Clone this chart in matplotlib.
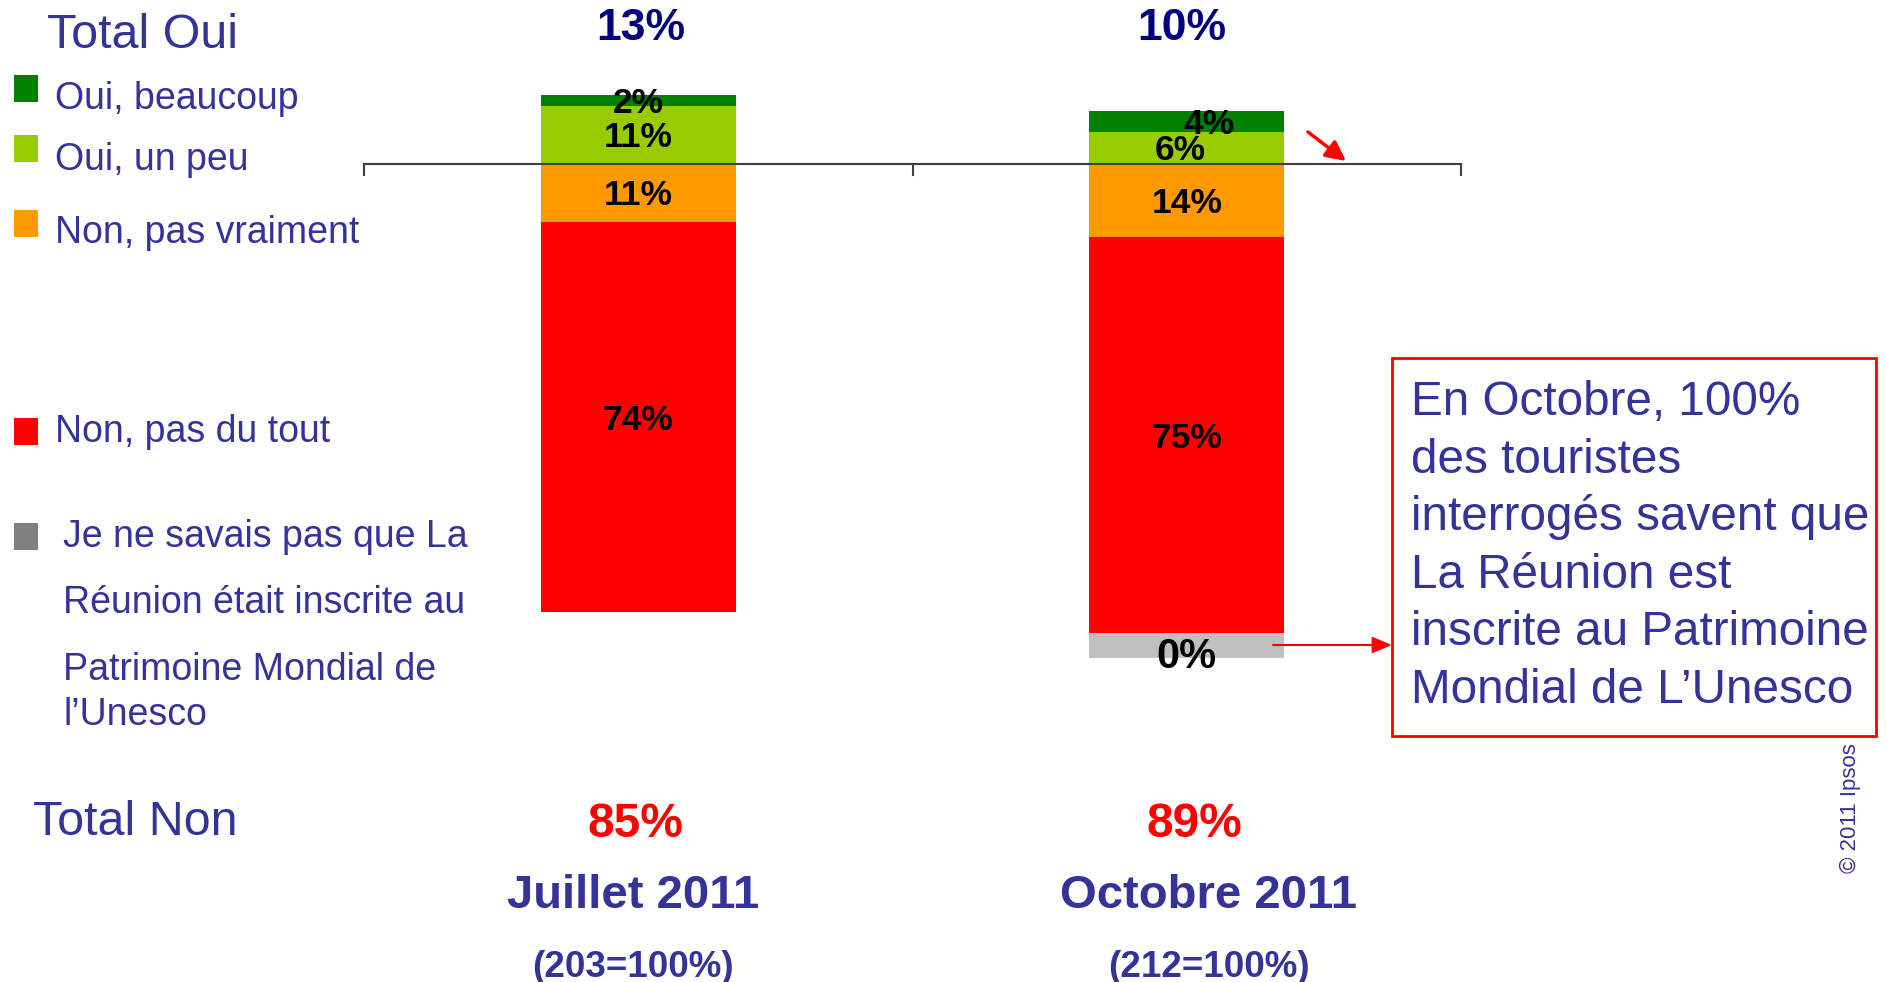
import numpy as np
import matplotlib.pyplot as plt
from matplotlib.patches import Rectangle
from matplotlib import transforms

plt.rcParams['font.family'] = ['Liberation Sans', 'DejaVu Sans']

# Données
mois = ["Juillet 2011", "Octobre 2011"]
bases = ["(203=100%)", "(212=100%)"]
oui_beaucoup = [2, 4]
oui_un_peu = [11, 6]
non_pas_vraiment = [11, 14]
non_pas_du_tout = [74, 75]
ne_savait_pas = [0, 4.7]          # hauteur de la barre grise telle que dessinée
ne_savait_pas_txt = ["", "0%"]
total_oui = [13, 10]
total_non = [85, 89]

# Couleurs
VERT = '#008000'
VERT_CLAIR = '#99CC00'
ORANGE = '#FF9900'
ROUGE = '#FF0000'
GRIS = '#C0C0C0'
GRIS_LEG = '#808080'
BLEU = '#333399'
MARINE = '#000080'

W, H = 1886, 982
fig = plt.figure(figsize=(W / 100, H / 100), dpi=100)

# axe : 0% à y=163.6 px, 5.278 px par point de %
zero, ech = 163.6, 5.278
ax = fig.add_axes([364 / W, 0, (1461 - 364) / W, 1])
ax.set_xlim(-0.5, 1.5)
ax.set_ylim(-(H - zero) / ech, zero / ech)
ax.axis('off')

x = np.arange(len(mois))
larg = 0.356
pv = -np.array(non_pas_vraiment, dtype=float)
pdt = -np.array(non_pas_du_tout, dtype=float)
ax.bar(x, oui_un_peu, larg, color=VERT_CLAIR)
ax.bar(x, oui_beaucoup, larg, bottom=oui_un_peu, color=VERT)
ax.bar(x, pv, larg, color=ORANGE)
ax.bar(x, pdt, larg, bottom=pv, color=ROUGE)
ax.bar(x, -np.array(ne_savait_pas), larg, bottom=pv + pdt, color=GRIS)

# ligne d'axe avec graduations
ax.plot([-0.5, 1.5], [0, 0], color='#404040', lw=1.5, zorder=5, clip_on=False)
for t in [-0.5, 0.5, 1.5]:
    ax.plot([t, t], [0, -2.1], color='#404040', lw=1.5, zorder=5, clip_on=False)


def etiquette(xc, yc, txt, dx=0, dy=0, taille=25.5):
    ax.annotate(txt, (xc, yc), xytext=(dx, dy - 0.358 * taille),
                textcoords='offset points', ha='center', va='baseline',
                fontsize=taille, fontweight='bold', color='black', zorder=6)


decal_haut = [0, 16]
decal_peu = [0, -5]
for i in x:
    etiquette(i, oui_un_peu[i] / 2, f"{oui_un_peu[i]}%", dx=decal_peu[i])
    etiquette(i, oui_un_peu[i] + oui_beaucoup[i] / 2, f"{oui_beaucoup[i]}%", dx=decal_haut[i])
    etiquette(i, pv[i] / 2, f"{non_pas_vraiment[i]}%")
    etiquette(i, pv[i] + pdt[i] / 2, f"{non_pas_du_tout[i]}%")
    if ne_savait_pas_txt[i]:
        etiquette(i, pv[i] + pdt[i] - ne_savait_pas[i] / 2, ne_savait_pas_txt[i], dy=-5, taille=30)

# textes sous / au-dessus des barres
mix = transforms.blended_transform_factory(ax.transData, fig.transFigure)
decal_mois = [-0.01, 0.04]
for i in x:
    ax.text(i + 0.005 - 0.015 * i, 1 - 40 / H, f"{total_oui[i]}%", transform=mix, ha='center',
            va='baseline', fontsize=32, fontweight='bold', color=MARINE)
    ax.text(i - 0.006 + 0.02 * i, 1 - 837 / H, f"{total_non[i]}%", transform=mix, ha='center',
            va='baseline', fontsize=34.5, fontweight='bold', color=ROUGE)
    ax.text(i + decal_mois[i], 1 - 908 / H, mois[i], transform=mix, ha='center',
            va='baseline', fontsize=34, fontweight='bold', color=BLEU)
    ax.text(i + decal_mois[i], 1 - 977 / H, bases[i], transform=mix, ha='center',
            va='baseline', fontsize=26.5, fontweight='bold', color=BLEU)


def texte(px, py, s, **kw):
    fig.text(px / W, 1 - py / H, s, **kw)


texte(47, 48, "Total Oui", fontsize=34.8, color=BLEU, va='baseline')
texte(33, 835, "Total Non", fontsize=34.8, color=BLEU, va='baseline')

# légende
legende = ["Oui, beaucoup", "Oui, un peu", "Non, pas vraiment", "Non, pas du tout"]
couleurs_leg = [VERT, VERT_CLAIR, ORANGE, ROUGE, GRIS_LEG]
haut_carre = [75, 135, 210, 418, 523]
lignes_base = [109, 170, 243, 442]
for k, c in enumerate(couleurs_leg):
    fig.patches.append(Rectangle((14 / W, 1 - (haut_carre[k] + 27) / H), 24 / W, 27 / H,
                                 transform=fig.transFigure, facecolor=c, edgecolor='none'))
for k, s in enumerate(legende):
    texte(55, lignes_base[k], s, fontsize=27, color=BLEU, va='baseline')

gris_lignes = ["Je ne savais pas que La", "Réunion était inscrite au",
               "Patrimoine Mondial de", "l\u2019Unesco"]
for s, b in zip(gris_lignes, [547, 613, 680, 725]):
    texte(63, b, s, fontsize=27, color=BLEU, va='baseline')

# encadré
fig.patches.append(Rectangle((1392 / W, 1 - 736 / H), (1876 - 1392) / W, (736 - 358) / H,
                             transform=fig.transFigure, facecolor='white',
                             edgecolor=ROUGE, lw=2))
encadre = ["En Octobre, 100%", "des touristes", "interrogés savent que",
           "La Réunion est", "inscrite au Patrimoine", "Mondial de L\u2019Unesco"]
for k, s in enumerate(encadre):
    texte(1411, 415 + 57.6 * k, s, fontsize=34.3, color=BLEU, va='baseline')

# flèches
fleche = dict(arrowstyle='-|>,head_length=0.6,head_width=0.3', color=ROUGE,
              lw=2.5, shrinkA=0, shrinkB=0, mutation_scale=20)
fig.add_artist(plt.Annotation("", xy=(1346 / W, 1 - 161 / H), xytext=(1308 / W, 1 - 132 / H),
                              xycoords='figure fraction', arrowprops=fleche))
fleche2 = dict(arrowstyle='-|>,head_length=0.6,head_width=0.25', color=ROUGE,
               lw=1.5, shrinkA=0, shrinkB=0, mutation_scale=20)
fig.add_artist(plt.Annotation("", xy=(1392 / W, 1 - 645 / H), xytext=(1273 / W, 1 - 645 / H),
                              xycoords='figure fraction', arrowprops=fleche2))

texte(1850, 808, "© 2011 Ipsos", rotation=90, ha='center', va='center',
      fontsize=16, color=BLEU)

fig.savefig('out.png', dpi=100)
